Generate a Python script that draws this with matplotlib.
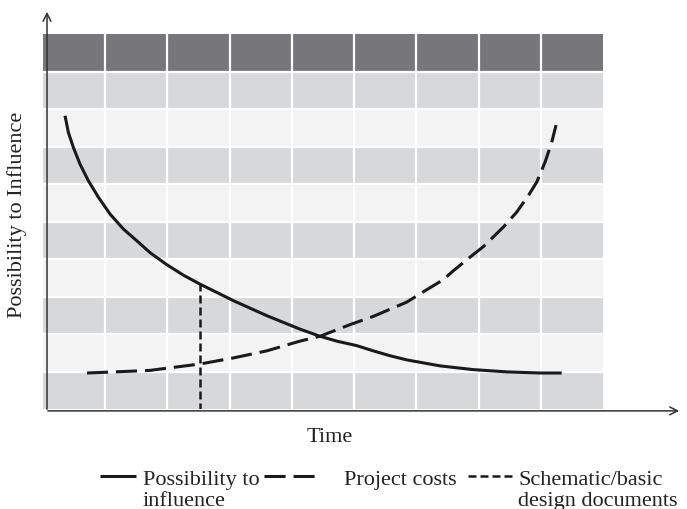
import matplotlib
matplotlib.use("Agg")
import matplotlib.pyplot as plt
from matplotlib.lines import Line2D

# ---- data (x in time columns 0..9, y in band rows 0..10) ----
influence_x = [0.354, 0.407, 0.487, 0.595, 0.728, 0.889, 1.077, 1.291, 1.532, 1.720,
               1.988, 2.255, 2.523, 2.792, 3.058, 3.327, 3.595, 3.862, 4.130, 4.452,
               4.720, 5.042, 5.309, 5.577, 5.845, 6.112, 6.381, 6.916, 7.452, 7.988, 8.336]
influence_y = [7.82, 7.38, 6.98, 6.53, 6.09, 5.65, 5.20, 4.80, 4.45, 4.17,
               3.85, 3.57, 3.33, 3.11, 2.89, 2.69, 2.49, 2.31, 2.13, 1.94,
               1.81, 1.69, 1.55, 1.42, 1.31, 1.23, 1.15, 1.05, 0.99, 0.96, 0.96]

costs_x = [0.707, 1.446, 1.720, 2.523, 3.054, 3.595, 4.130, 4.452, 4.934, 5.309,
           5.845, 6.167, 6.434, 6.590, 6.863, 7.077, 7.398, 7.613, 7.800, 7.935,
           8.068, 8.176, 8.245]
costs_y = [0.96, 1.01, 1.03, 1.20, 1.36, 1.55, 1.81, 1.94, 2.25, 2.47,
           2.85, 3.18, 3.45, 3.68, 4.05, 4.33, 4.85, 5.25, 5.69, 6.05,
           6.58, 7.11, 7.57]

schematic_x = [2.523, 2.523]
schematic_y = [-0.05, 3.33]

n_cols = 9
n_rows = 10
row_colors = ["#d7d8da", "#f3f3f3"] * 4 + ["#d7d8da", "#77777a"]

ylabel = "Possibility to Influence"
xlabel = "Time"
legend_labels = ["Possibility to\ninfluence", "Project costs", "Schematic/basic\ndesign documents"]

plt.rcParams['font.family'] = ['Liberation Serif', 'DejaVu Serif']

W, H = 687, 510
fig = plt.figure(figsize=(W / 100, H / 100), dpi=100)
left, right, top, bottom = 43, 603, 35, 410
ax = fig.add_axes([left / W, 1 - bottom / H, (right - left) / W, (bottom - top) / H])
ax.set_xlim(0, n_cols)
ax.set_ylim(0, n_rows)
ax.axis("off")

# background bands
for i, c in enumerate(row_colors):
    ax.axhspan(i, i + 1, color=c, lw=0, zorder=0)
for i in range(1, n_rows):
    ax.axhline(i, color="white", lw=1.6, zorder=1)
for j in range(1, n_cols):
    ax.axvline(j, color="white", lw=1.6, zorder=1)

# axes arrows
ax_x0 = (47 - left) / 62.22
ax_y0 = -0.05
ax.annotate("", xy=(ax_x0, (bottom - 10) / 37.5), xytext=(ax_x0, ax_y0 - 0.03),
            arrowprops=dict(arrowstyle="->", color="#333333", lw=1.1, mutation_scale=14),
            annotation_clip=False, zorder=5)
ax.annotate("", xy=((682 - left) / 62.22, ax_y0), xytext=(ax_x0 - 0.03, ax_y0),
            arrowprops=dict(arrowstyle="->", color="#333333", lw=1.1, mutation_scale=14),
            annotation_clip=False, zorder=5)

solid_style = dict(lw=2.2, linestyle="-", solid_capstyle="butt", solid_joinstyle="round")
costs_style = dict(lw=2.2, linestyle=(0, (6.9, 2.6)))
schem_style = dict(lw=1.8, linestyle=(0, (3.2, 1.6)))

# curves
ax.plot(influence_x, influence_y, color="#1a1a1a", zorder=4, **solid_style)
ax.plot(costs_x, costs_y, color="#1a1a1a", zorder=4, **costs_style)
ax.plot(schematic_x, schematic_y, color="#1a1a1a", zorder=4, **schem_style)

# labels
fig.text(17 / W, 1 - 215 / H, ylabel, rotation=90, ha="center", va="center", fontsize=16, color="#222222")
fig.text(330 / W, 1 - 438 / H, xlabel, ha="center", va="center", fontsize=16, color="#222222")

# legend (manual)
styles = [solid_style, costs_style, schem_style]
samples = [(100, 136), (264, 316), (468, 512)]
text_x = [143, 344, 518]
ly = 477
for (x0, x1), st, tx, lab in zip(samples, styles, text_x, legend_labels):
    fig.add_artist(Line2D([x0 / W, x1 / W], [1 - ly / H, 1 - ly / H], color="#1a1a1a", **st))
    fig.text(tx / W, 1 - (ly - 6) / H, lab, ha="left", va="top", fontsize=16,
             color="#222222", linespacing=1.15)

fig.savefig("out.png", dpi=100)
